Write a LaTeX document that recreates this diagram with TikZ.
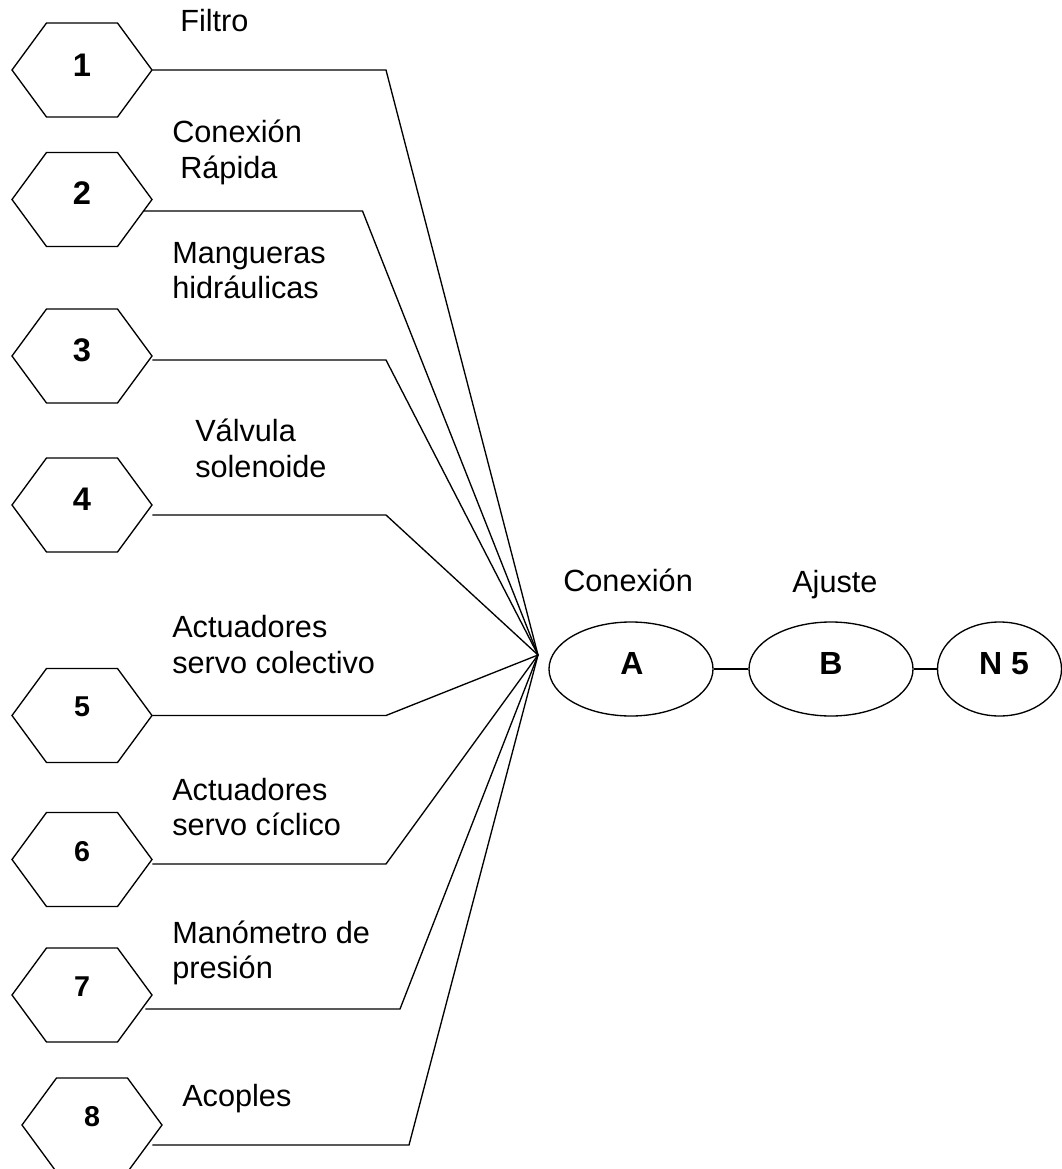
\documentclass[tikz,border=0pt]{standalone}
\usepackage{fontspec}
\setmainfont{Liberation Sans}
\usetikzlibrary{shapes.geometric,calc}
\tikzset{
  conn/.style={line width=1pt, line join=miter},
  hexbox/.style={minimum width=105pt, minimum height=70.5pt, inner sep=0pt},
  hexline/.style={line width=1pt, line join=miter},
  ovalbox/.style={draw, line width=1pt, ellipse, minimum width=123pt, minimum height=70.5pt, inner sep=0pt},
  lbl/.style={anchor=base west, inner sep=0pt, font=\fontsize{23}{26.6}\selectfont},
  numbig/.style={anchor=base, inner sep=0pt, font=\fontsize{24.5}{28}\selectfont\bfseries},
  numsmall/.style={anchor=base, inner sep=0pt, font=\fontsize{21.5}{25}\selectfont\bfseries},
  letter/.style={anchor=base, inner sep=0pt, font=\fontsize{24}{28}\selectfont\bfseries},
}
\newcommand{\twolines}[2]{\begin{tabular}[t]{@{}l@{}}#1\\#2\end{tabular}}
\begin{document}
\begin{tikzpicture}[x=0.75pt, y=-0.75pt]
\useasboundingbox (0,0) rectangle (1061,1169);

% hexagon anchors
\node[hexbox] (h1) at (82,70) {};
\node[hexbox] (h2) at (82,199.5) {};
\node[hexbox] (h3) at (82,356) {};
\node[hexbox] (h4) at (82,505) {};
\node[hexbox] (h5) at (82,715.5) {};
\node[hexbox] (h6) at (82,859.5) {};
\node[hexbox] (h7) at (82,995) {};
\node[hexbox] (h8) at (92,1125) {};
\foreach \n in {1,...,8}
  \draw[hexline] ($(h\n)+(-70,0)$) -- ($(h\n)+(-35.5,-47)$) -- ($(h\n)+(35.5,-47)$)
     -- ($(h\n)+(70,0)$) -- ($(h\n)+(35.5,47)$) -- ($(h\n)+(-35.5,47)$) -- cycle;

% numbers
\node[numbig] (t1) at (82,76.5) {1};
\node[numbig] (t2) at (82,204.5) {2};
\node[numbig] (t3) at (82,361.7) {3};
\node[numbig] (t4) at (82,510) {4};
\node[numsmall] (t5) at (82,716.7) {5};
\node[numsmall] (t6) at (82,861) {6};
\node[numsmall] (t7) at (82,996) {7};
\node[numsmall] (t8) at (92,1126) {8};

% labels
\node[lbl] (l1) at (180,31.7) {Filtro};
\node[lbl] (l2) at (172,142.7) {\twolines{Conexión}{\hspace*{6pt}Rápida}};
\node[lbl] (l3) at (172,263.3) {\twolines{Mangueras}{hidráulicas}};
\node[lbl] (l4) at (195,441.7) {\twolines{Válvula}{solenoide}};
\node[lbl] (l5) at (172,637.7) {\twolines{Actuadores}{servo colectivo}};
\node[lbl] (l6) at (172,800) {\twolines{Actuadores}{servo cíclico}};
\node[lbl] (l7) at (172,943) {\twolines{Manómetro de}{presión}};
\node[lbl] (l8) at (182,1106) {Acoples};

% hub and bends
\coordinate (hub) at (538,655);
\coordinate (b1) at (386,70);
\coordinate (b2) at (362.5,211);
\coordinate (b3) at (386,360);
\coordinate (b4) at (386,515);
\coordinate (b5) at (386,715.5);
\coordinate (b6) at (386,864);
\coordinate (b7) at (400,1009);
\coordinate (b8) at (409,1145);

\draw[conn] (h1.east) -- (b1) -- (hub);
\draw[conn] ($(h2.east)+(-8.5,11.5)$) -- (b2) -- (hub);
\draw[conn] ($(h3.east)+(0,4)$) -- (b3) -- (hub);
\draw[conn] ($(h4.east)+(0,10)$) -- (b4) -- (hub);
\draw[conn] (h5.east) -- (b5) -- (hub);
\draw[conn] ($(h6.east)+(0,4.5)$) -- (b6) -- (hub);
\draw[conn] ($(h7.east)+(-7,14)$) -- (b7) -- (hub);
\draw[conn] ($(h8.east)+(-10,20)$) -- (b8) -- (hub);

% ellipses
\node[ovalbox] (eA) at (631,669) {};
\node[ovalbox] (eB) at (831,669) {};
\node[ovalbox, minimum width=93pt] (eN) at (999.5,669) {};
\node[letter] (lA) at (632,674.5) {A};
\node[letter] (lB) at (831,674.5) {B};
\node[letter] (lN) at (1004,674.5) {N 5};
\draw[conn] (eA.east) -- (eB.west);
\draw[conn] (eB.east) -- (eN.west);

\node[lbl] (cA) at (563,591) {Conexión};
\node[lbl] (cB) at (792,592) {Ajuste};
\end{tikzpicture}
\end{document}
